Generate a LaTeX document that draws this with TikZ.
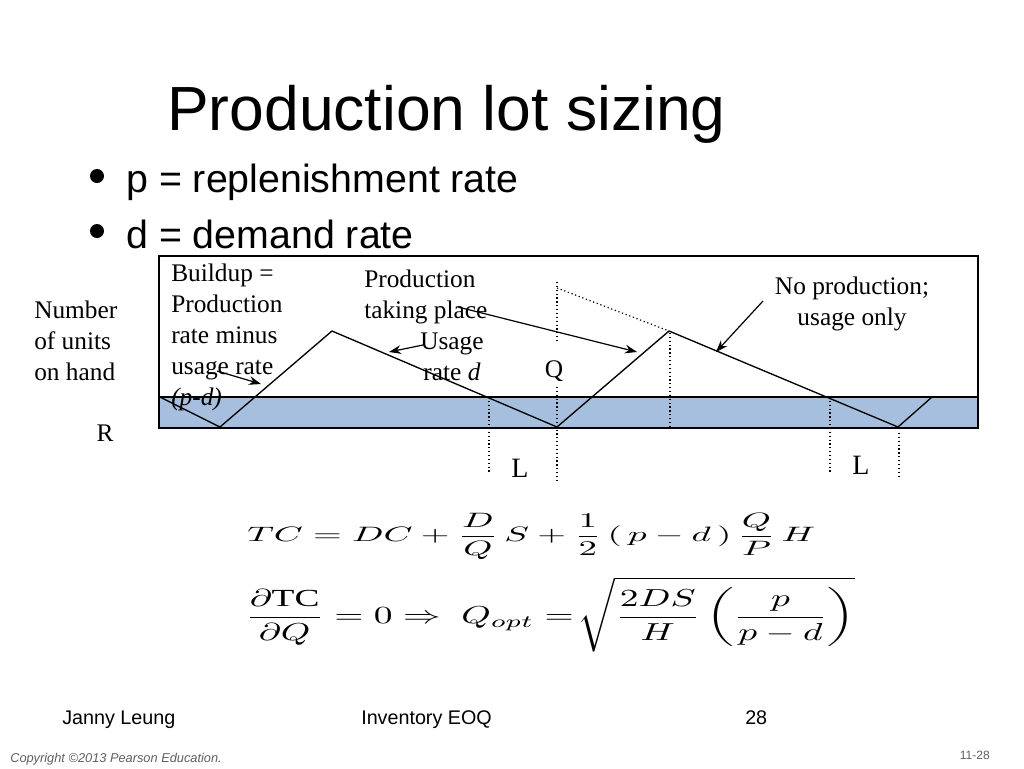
\documentclass[tikz,border=0pt]{standalone}
\usepackage{fontspec}
\usepackage{graphicx}
\setmainfont{Liberation Serif}
\setsansfont{Liberation Sans}
\usetikzlibrary{arrows.meta}
\definecolor{bandblue}{RGB}{167,191,222}
\definecolor{footgray}{RGB}{95,95,95}
\begin{document}
\begin{tikzpicture}[x=0.75pt,y=-0.75pt,
  lbl/.style={font=\fontsize{19}{23.25}\selectfont, inner sep=0pt, anchor=base west, align=left},
  clbl/.style={font=\fontsize{19}{23.25}\selectfont, inner sep=0pt, anchor=base, align=center},
  big/.style={font=\fontsize{21}{24}\selectfont, inner sep=0pt, anchor=base},
  ptr/.style={-{Stealth[length=9pt,width=6.5pt]}, line width=0.9pt},
  guide/.style={dotted, line width=0.9pt},
  saw/.style={line width=1pt, line join=miter},
  foot/.style={font=\sffamily\fontsize{14.8}{17}\selectfont, inner sep=0pt, anchor=base west},
  eqn/.style={inner sep=0pt, anchor=west}]
\useasboundingbox (0,0) rectangle (1024,768);

% title and bullets
\node[font=\sffamily\fontsize{46.8}{52}\selectfont, inner sep=0pt, anchor=base west] (title) at (167,130) {Production lot sizing};
\fill (97,176) circle (7);
\fill (97,231) circle (7);
\node[font=\sffamily\fontsize{29.5}{34}\selectfont, inner sep=0pt, anchor=base west] (b1) at (126,192) {p = replenishment rate};
\node[font=\sffamily\fontsize{29.5}{34}\selectfont, inner sep=0pt, anchor=base west] (b2) at (126,248) {d = demand rate};

% chart frame
\fill[bandblue] (159,397) rectangle (978,428);
\draw[line width=1.2pt] (159,256) rectangle (978,428);
\draw[line width=1pt] (159,397) -- (978,397);

% dotted guides
\draw[guide] (557,282) -- (557,343);
\draw[guide] (557,387) -- (557,480);
\draw[guide] (557,288) -- (669,331);
\draw[guide] (670,333) -- (670,428);
\draw[guide] (489,397) -- (489,473);
\draw[guide] (830,397) -- (830,472);
\draw[guide] (899,433) -- (899,479);

% inventory sawtooth
\coordinate (v0) at (160,397);
\coordinate (v1) at (220,427);
\coordinate (v2) at (332,331);
\coordinate (v3) at (557,427);
\coordinate (v4) at (669,331);
\coordinate (v5) at (898,427);
\coordinate (v6) at (932,397);
\draw[saw] (v0) -- (v1) -- (v2) -- (v3) -- (v4) -- (v5) -- (v6);

% labels (anchor = baseline of the last line)
\node[lbl] (num) at (34,380) {Number\\of units\\on hand};
\node[lbl] (bld) at (171,405) {Buildup =\\Production\\rate minus\\usage rate\\\textit{(p-d)}};
\node[lbl] (prod) at (364,318) {Production\\taking place};
\node[clbl] (use) at (452,380) {Usage\\rate \textit{d}};
\node[clbl] (nop) at (852,325) {No production;\\usage only};
\node[clbl] (q) at (554,377) {Q};
\node[clbl] (r) at (105,441) {R};
\node[big] (l1) at (520,477) {L};
\node[big] (l2) at (861,474) {L};

% pointers
\coordinate (a1s) at (217,371); \coordinate (a1e) at (261,384);
\coordinate (a2s) at (423,345); \coordinate (a2e) at (389,352);
\coordinate (a3s) at (458,307); \coordinate (a3e) at (637,352);
\coordinate (a4s) at (763,301); \coordinate (a4e) at (716,352);
\draw[ptr] (a1s) -- (a1e);
\draw[ptr] (a2s) -- (a2e);
\draw[ptr] (a3s) -- (a3e);
\draw[ptr] (a4s) -- (a4e);

% equations
\node[eqn] (eq1) at (247,536.5) {\resizebox*{426pt}{35pt}{$\displaystyle TC = DC + \frac{D}{Q}\,S + \frac{1}{2}\,(\,p - d\,)\,\frac{Q}{P}\,H$}};
\node[eqn] (eq2) at (245,614.5) {\resizebox*{457pt}{56pt}{$\displaystyle \frac{\partial\mathrm{TC}}{\partial Q} = 0 \Rightarrow\; Q_{opt} =\! \sqrt{\frac{2DS}{H}\left(\frac{p}{p-d}\right)}$}};

% footer
\node[foot] (f1) at (62,724) {Janny Leung};
\node[foot] (f2) at (361,724) {Inventory EOQ};
\node[foot] (f3) at (745,724) {28};
\node[font=\sffamily\itshape\fontsize{9.6}{11}\selectfont, text=footgray, inner sep=0pt, anchor=base west] (copy) at (10,762) {Copyright ©2013 Pearson Education.};
\node[font=\sffamily\fontsize{9}{11}\selectfont, text=footgray, inner sep=0pt, anchor=base east] (pg) at (990,759) {11-28};
\end{tikzpicture}
\end{document}
